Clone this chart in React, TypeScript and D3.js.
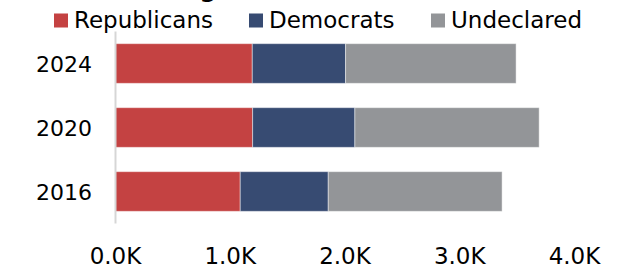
import React from "react";
import * as d3 from "d3";

const years = ["2024", "2020", "2016"];
const seriesNames = ["Republicans", "Democrats", "Undeclared"];
const republicans = [1192, 1195, 1087];
const democrats = [813, 891, 767];
const undeclared = [1486, 1606, 1515];
const tickValues = [0, 1000, 2000, 3000, 4000];
const colors = ["#C44242", "#374B72", "#939598"];
const titleText = "Voter Registration";

const W = 620;
const H = 268;
const FONT = "'DejaVu Sans', Verdana, sans-serif";

export default function App() {
  const x = d3.scaleLinear().domain([0, 4000]).range([115.5, 574.5]);
  const y = d3
    .scaleBand<string>()
    .domain(years)
    .range([31.5, 223.5])
    .paddingInner(0.38)
    .paddingOuter(0.19);

  const rows = years.map((yr, i) => ({
    year: yr,
    Republicans: republicans[i],
    Democrats: democrats[i],
    Undeclared: undeclared[i],
  }));
  const stacked = d3.stack<any>().keys(seriesNames)(rows);
  const fmt = (v: number) => (v / 1000).toFixed(1) + "K";

  const legendX = [54, 249, 431];

  return (
    <svg
      width={W}
      height={H}
      style={{ position: "absolute", left: 0, top: 0, display: "block", background: "#fff" }}
      fontFamily={FONT}
    >
      <text x={83} y={-3.5} fontSize={24} fontWeight="bold" fill="#000">
        {titleText}
      </text>
      {seriesNames.map((s, i) => (
        <g key={s}>
          <rect x={legendX[i]} y={13.5} width={14} height={14} fill={colors[i]} />
          <text x={legendX[i] + 20} y={27.7} fontSize={23} fill="#000">
            {s}
          </text>
        </g>
      ))}
      {stacked.map((layer, si) => (
        <g key={layer.key} fill={colors[si]}>
          {layer.map((d: any, i: number) => (
            <rect
              key={i}
              x={x(d[0])}
              y={y(d.data.year)}
              width={x(d[1]) - x(d[0])}
              height={y.bandwidth()}
              stroke="rgba(255,255,255,0.45)"
              strokeWidth={1}
            />
          ))}
        </g>
      ))}
      <line x1={115.5} x2={115.5} y1={31.5} y2={223.5} stroke="#d6d6d6" strokeWidth={2} />
      {years.map((yr) => (
        <text
          key={yr}
          x={92}
          y={(y(yr) as number) + y.bandwidth() / 2 + 8.5}
          fontSize={22}
          textAnchor="end"
          fill="#000"
        >
          {yr}
        </text>
      ))}
      {tickValues.map((t) => (
        <text key={t} x={x(t)} y={264} fontSize={23} textAnchor="middle" fill="#000">
          {fmt(t)}
        </text>
      ))}
    </svg>
  );
}
